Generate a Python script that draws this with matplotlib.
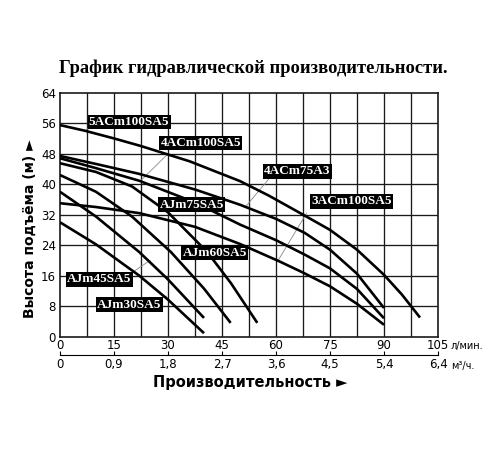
import matplotlib
matplotlib.use("Agg")
import matplotlib.pyplot as plt

# axis ticks
flow_ticks = [0, 15, 30, 45, 60, 75, 90, 105]
m3h_labels = ["0", "0,9", "1,8", "2,7", "3,6", "4,5", "5,4", "6,4"]
head_ticks = [0, 8, 16, 24, 32, 40, 48, 56, 64]

# pump curves, flow (l/min) vs head (m)
q_5acm100 = [0, 7, 15, 22.5, 36, 50, 58, 67.5, 75, 82.5, 90, 95, 100]
h_5acm100 = [55.5, 54, 52, 50, 46, 40.8, 37, 32, 28, 22.8, 16.2, 11, 5]

q_4acm75 = [0, 10, 22, 37.5, 50, 60, 68, 75, 82.5, 90]
h_4acm75 = [47.4, 45.3, 42.7, 38.6, 34.6, 30.9, 27.2, 22.8, 16.5, 7.5]

q_4acm100 = [0, 10, 22, 37.5, 50, 60, 68, 75, 82.5, 90]
h_4acm100 = [46.8, 44.2, 40.9, 35.2, 29.4, 25.3, 21.5, 17.9, 12.5, 4.8]

q_3acm100 = [0, 10, 22, 37.5, 50, 60.8, 67.5, 75, 82.5, 90]
h_3acm100 = [35, 34, 32.4, 28.8, 24.3, 19.8, 16.8, 13.2, 8.6, 3.1]

q_ajm75 = [0, 10, 20, 30, 40.9, 47.5, 54.8]
h_ajm75 = [45.5, 43.2, 39.4, 32.6, 22.2, 14, 3.6]

q_ajm60 = [0, 10, 20, 30.8, 40, 47.4]
h_ajm60 = [42.4, 38, 31.5, 22.2, 12.6, 3.6]

q_ajm45 = [0, 10, 22, 30, 40]
h_ajm45 = [38, 31.5, 22.2, 15, 4.9]

q_ajm30 = [0, 10, 22, 30, 40]
h_ajm30 = [30, 24.2, 16, 9.7, 0.9]

curves = [
    (q_5acm100, h_5acm100), (q_4acm75, h_4acm75), (q_4acm100, h_4acm100),
    (q_3acm100, h_3acm100), (q_ajm75, h_ajm75), (q_ajm60, h_ajm60),
    (q_ajm45, h_ajm45), (q_ajm30, h_ajm30),
]

# label text, box centre, leader line (start -> point on curve) or None
labels = [
    ("5ACm100SA5", (19.2, 56.3), [(7.9, 54.7), (6.9, 53.9)]),
    ("4ACm100SA5", (39.1, 50.8), [(29.7, 47.7), (22.3, 40.8)]),
    ("4ACm75A3", (66.0, 43.4), [(58.3, 41.7), (51.4, 33.9)]),
    ("3ACm100SA5", (81.0, 35.5), [(68.5, 32.4), (60.6, 20.0)]),
    ("AJm75SA5", (36.6, 34.6), None),
    ("AJm60SA5", (43.0, 22.0), None),
    ("AJm45SA5", (10.9, 15.0), [(19.9, 16.7), (25.0, 20.0)]),
    ("AJm30SA5", (19.2, 8.4), [(28.2, 10.1), (29.6, 10.6)]),
]

fig = plt.figure(figsize=(5, 4.5), dpi=100)
ax = fig.add_axes([0.12, 0.252, 0.756, 0.542])

ax.set_xlim(0, 105)
ax.set_ylim(0, 64)

# grid every 7.5 l/min and 8 m
for i in range(1, 14):
    ax.axvline(i * 7.5, color="#1a1a1a", lw=0.95, zorder=1)
for hv in head_ticks[1:-1]:
    ax.axhline(hv, color="#1a1a1a", lw=0.95, zorder=1)

for q, h in curves:
    ax.plot(q, h, color="black", lw=1.9, solid_capstyle="butt", zorder=3)

for name, (cx, cy), leader in labels:
    if leader:
        ax.plot([leader[0][0], leader[1][0]], [leader[0][1], leader[1][1]],
                color="#888888", lw=0.6, zorder=2)
    ax.text(cx, cy, name, ha="center", va="center", color="white",
            fontsize=9.5, fontweight="bold", family="Liberation Serif", zorder=5,
            bbox=dict(boxstyle="square,pad=0.1", fc="black", ec="none"))

for s in ax.spines.values():
    s.set_linewidth(1.2)
    s.set_color("#1a1a1a")

ax.set_xticks(flow_ticks)
ax.set_xticklabels([str(t) for t in flow_ticks])
ax.set_yticks(head_ticks)
ax.tick_params(length=0, labelsize=8.5, pad=2)
ax.tick_params(axis="y", pad=3)

sec = ax.secondary_xaxis(-0.076)
sec.set_xticks(flow_ticks)
sec.set_xticklabels(m3h_labels)
sec.tick_params(direction="in", length=3, width=0.8, pad=2, labelsize=8.5)
sec.spines["bottom"].set_linewidth(0.8)

ax.text(1.033, -0.04, "л/мин.", transform=ax.transAxes, fontsize=7,
        ha="left", va="center")
ax.text(1.035, -0.122, "м³/ч.", transform=ax.transAxes, fontsize=7,
        ha="left", va="center")

fig.text(0.506, 0.849, "График гидравлической производительности.",
         ha="center", va="center", fontsize=13.3, fontweight="bold",
         family="Liberation Serif")
fig.text(0.06, 0.491, "Высота подъёма (м) ►", rotation=90, ha="center",
         va="center", fontsize=10, fontweight="bold")
fig.text(0.501, 0.149, "Производительность ►", ha="center", va="center",
         fontsize=10.5, fontweight="bold")

fig.savefig("out.png", dpi=100)
